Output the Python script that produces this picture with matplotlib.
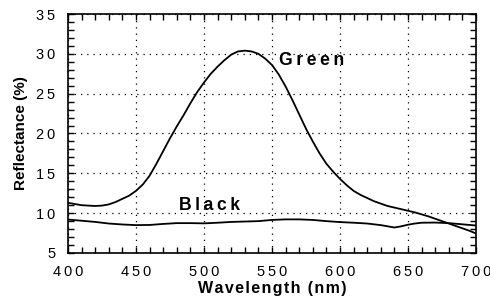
import matplotlib
matplotlib.use("Agg")
import matplotlib.pyplot as plt
from matplotlib.ticker import MultipleLocator, FixedLocator

plt.rcParams['font.family'] = ['Liberation Sans', 'DejaVu Sans']

green_wl = [400, 405, 410, 415, 420, 425, 430, 435, 440, 445, 450, 455, 460, 465, 470, 475, 480, 485, 490, 495,
            500, 505, 510, 515, 520, 525, 530, 535, 540, 545, 550, 555, 560, 565, 570, 575, 580, 585, 590, 595,
            600, 605, 610, 615, 620, 625, 630, 635, 640, 645, 650, 655, 660, 665, 670, 675, 680, 685, 690, 695, 700]
green_val = [11.3, 11.15, 11.0, 10.95, 10.9, 10.95, 11.1, 11.4, 11.8, 12.2, 12.8, 13.6, 14.7, 16.2, 17.8, 19.4, 20.9, 22.3, 23.8, 25.2,
             26.4, 27.5, 28.4, 29.2, 29.9, 30.3, 30.4, 30.3, 30.0, 29.4, 28.6, 27.4, 25.9, 24.2, 22.4, 20.6, 19.0, 17.5, 16.2, 15.2,
             14.3, 13.5, 12.8, 12.3, 11.9, 11.5, 11.2, 10.9, 10.7, 10.5, 10.3, 10.1, 9.85, 9.6, 9.3, 9.0, 8.7, 8.4, 8.1, 7.8, 7.45]

black_wl = [400, 410, 420, 430, 440, 450, 460, 470, 480, 490, 500, 510, 520, 530, 540, 550, 560, 570, 580, 590,
            600, 610, 620, 630, 635, 640, 645, 650, 655, 660, 670, 680, 690, 700]
black_val = [9.2, 9.05, 8.9, 8.7, 8.58, 8.5, 8.52, 8.65, 8.75, 8.75, 8.72, 8.8, 8.9, 8.95, 9.0, 9.15, 9.22, 9.22, 9.15, 9.0,
             8.88, 8.8, 8.7, 8.5, 8.35, 8.2, 8.35, 8.55, 8.7, 8.8, 8.82, 8.75, 8.6, 8.45]

x_ticks = [400, 450, 500, 550, 600, 650, 700]
y_ticks = [5, 10, 15, 20, 25, 30, 35]

TS = "\u2009"
HS = "\u200a"

def spaced(s, sep):
    return sep.join(list(s))

fig = plt.figure(figsize=(4.9, 2.98), dpi=100)
ax = fig.add_axes([68/490, 45/298, 408/490, 239/298])

ax.plot(green_wl, green_val, color='black', lw=1.3)
ax.plot(black_wl, black_val, color='black', lw=1.3)

ax.set_xlim(400, 700)
ax.set_ylim(5, 35)
ax.xaxis.set_major_locator(FixedLocator(x_ticks))
ax.yaxis.set_major_locator(FixedLocator(y_ticks))
ax.set_xticklabels([spaced(str(v), TS) for v in x_ticks])
ax.set_yticklabels([spaced(str(v), TS) for v in y_ticks])
ax.xaxis.set_minor_locator(MultipleLocator(10))
ax.yaxis.set_minor_locator(MultipleLocator(1))
ax.tick_params(which='both', direction='in', top=True, right=True, length=4, width=1, labelsize=10.5)
ax.tick_params(axis='x', pad=9)
ax.tick_params(axis='y', pad=9)
ax.grid(True, which='major', color='black', linestyle=(0, (1, 4)), lw=0.9)
for s in ax.spines.values():
    s.set_linewidth(1.2)

ax.set_xlabel(spaced("Wavelength (nm)", HS), fontsize=11.5, fontweight='bold', labelpad=1)
ax.set_ylabel("Reflectance (%)", fontsize=11, fontweight='bold', labelpad=6)

ax.text(579, 29.2, spaced("Green", TS), fontsize=12.7, fontweight='bold', ha='center', va='center')
ax.text(504, 11.0, spaced("Black", TS), fontsize=12.7, fontweight='bold', ha='center', va='center')

fig.savefig("out.png", dpi=100)
